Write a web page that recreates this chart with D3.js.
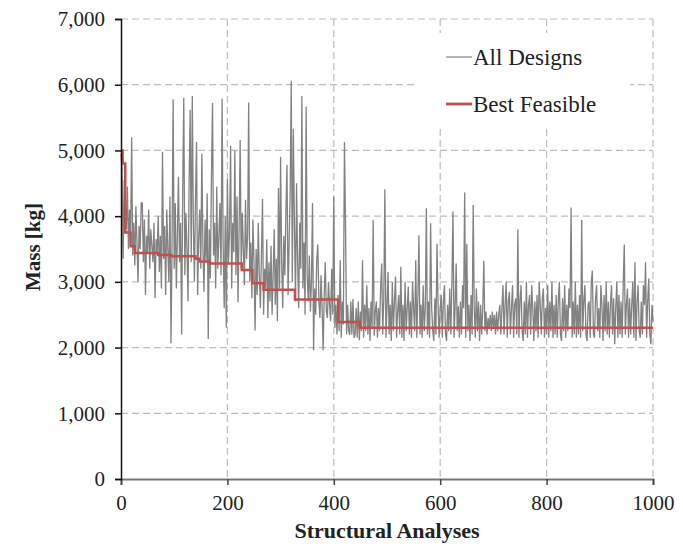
<!DOCTYPE html>
<html lang="en">
<head>
    <meta charset="UTF-8">
    <title>Mass vs Structural Analyses</title>
    <script src="https://d3js.org/d3.v7.min.js"></script>
    <style>
        body { margin: 0; background: #fff; }
        text { font-family: "Liberation Serif", "Times New Roman", serif; fill: #222; }
    </style>
</head>
<body>
    <div id="chart"></div>
    <script>
        // mass of every design, one value per 2 structural analyses (0, 2, 4 ... 1000)
        const analysisStep = 2
        const allDesignsMass = [
            4950, 4700, 3350, 4550, 4200, 3800, 4450, 3500, 4100, 3650,
            5200, 3400, 3900, 3250, 4150, 3600, 3000, 3850, 3500, 4200,
            4200, 3300, 3950, 2800, 3700, 3450, 4100, 3200, 3800, 3550,
            3300, 3900, 2750, 3650, 3450, 4000, 3150, 3700, 2900, 4980,
            3350, 3850, 2800, 4100, 3500, 3000, 4300, 2065, 3600, 5780,
            3200, 4200, 2900, 3700, 4600, 3300, 3900, 2200, 4400, 5800,
            3100, 4050, 3500, 2700, 4500, 5620, 3300, 5830, 3900, 3000,
            4250, 5130, 2800, 3650, 4100, 3200, 4950, 3500, 2850, 3950,
            3300, 4350, 2130, 3800, 3050, 4600, 5720, 3400, 3900, 2900,
            4450, 3200, 3700, 4200, 3100, 5790, 3550, 2600, 4000, 2300,
            4560, 3300, 3750, 5070, 2900, 3900, 3450, 5000, 3100, 4300,
            2690, 3800, 5160, 3200, 4050, 3500, 2950, 4250, 3350, 3700,
            5730, 3000, 3600, 2750, 3950, 3300, 2260, 3500, 2800, 3900,
            3100, 2600, 3400, 4260, 2500, 3200, 2900, 3650, 2450, 3300,
            2700, 3550, 2500, 3100, 3800, 2650, 3350, 2400, 4430, 2900,
            4900, 3300, 2600, 3700, 3100, 4100, 4780, 2800, 3600, 4350,
            6060, 3000, 5330, 3850, 2700, 4500, 3300, 2600, 3900, 3200,
            5830, 2900, 3600, 2500, 5670, 3100, 2700, 3400, 2550, 3000,
            4200, 1960, 2900, 2500, 3350, 3570, 2700, 2450, 3100, 2600,
            1960, 2800, 3300, 2550, 2450, 3000, 2650, 2400, 3200, 2500,
            4300, 2300, 2650, 2200, 2800, 2250, 3330, 2150, 2700, 2350,
            5130, 3890, 2200, 2650, 2250, 2190, 2700, 2200, 2740, 2150,
            2200, 2600, 2150, 2700, 2110, 2550, 2250, 3330, 2150, 2650,
            2250, 2950, 2200, 2600, 2100, 2700, 2300, 3940, 2180, 2550,
            2700, 2150, 2600, 2250, 2900, 3280, 2200, 2750, 4410, 2150,
            2600, 3150, 2200, 2650, 2100, 3000, 2250, 2700, 3080, 2150,
            2550, 2800, 2200, 3230, 2150, 2650, 2100, 3000, 2250, 2600,
            2930, 2200, 2700, 2150, 3000, 2600, 2250, 3330, 2150, 2750,
            3710, 2200, 2650, 2150, 2950, 2250, 2600, 4120, 2200, 2700,
            2150, 3890, 2600, 2250, 2100, 2750, 2200, 3580, 2650, 2150,
            2600, 2800, 2150, 2700, 2950, 2200, 2100, 2650, 2250, 2900,
            2200, 3000, 4070, 2150, 2600, 3280, 2250, 2630, 2150, 2700,
            2200, 2950, 2600, 4360, 2150, 3580, 2250, 2650, 2100, 2800,
            2200, 4170, 2600, 2150, 2900, 2250, 2700, 2100, 2650, 2200,
            2600, 3320, 2250, 2550, 2200, 2450, 2300, 2500, 2250, 2550,
            2300, 2500, 2200, 2550, 2250, 2500, 2650, 2200, 2600, 2950,
            2200, 2650, 3000, 2150, 2700, 2850, 2200, 2600, 2950, 2150,
            2650, 2750, 2200, 3800, 2150, 2700, 2950, 2250, 2100, 2700,
            2200, 3000, 2150, 2650, 2800, 2200, 2950, 2600, 2100, 2700,
            2250, 2800, 2150, 3000, 2650, 2200, 2750, 2900, 2150, 2600,
            2200, 2950, 2150, 2700, 2250, 3000, 2150, 2650, 2200, 2800,
            2150, 2700, 3000, 2200, 2100, 2750, 2250, 2950, 2150, 2650,
            2250, 2900, 2600, 4130, 2150, 2700, 2200, 3000, 2150, 2650,
            2200, 2800, 2150, 3940, 2250, 2700, 2950, 2200, 2100, 2650,
            2700, 2150, 3000, 3170, 2200, 2150, 2750, 2950, 2250, 2600,
            2150, 2950, 2650, 2100, 2800, 2250, 3000, 2200, 2700, 2150,
            2650, 2950, 2200, 2750, 2050, 2600, 3000, 2150, 2800, 2200,
            2700, 2150, 2950, 3570, 2200, 2650, 2900, 2150, 2750, 2200,
            2650, 3000, 2150, 3300, 2100, 2700, 2950, 2250, 2150, 2700,
            2200, 2950, 2650, 3300, 2150, 2700, 3050, 2200, 2050, 2650,
            2400
        ]

        // best feasible design so far: analysis where the value changes, and the mass
        const bestAnalyses = [0, 3, 8, 18, 26, 70, 95, 140, 148, 167, 227, 247, 268, 327, 408, 449, 1000]
        const bestMass = [5000, 4800, 3750, 3540, 3440, 3410, 3390, 3350, 3310, 3280, 3180, 2980, 2880, 2730, 2390, 2300, 2300]

        const xTicks = [0, 200, 400, 600, 800, 1000]
        const yTicks = [0, 1000, 2000, 3000, 4000, 5000, 6000, 7000]
        const legendLabels = ["All Designs", "Best Feasible"]

        const width = 683, height = 547
        const margin = {top: 19, right: 30, bottom: 68, left: 121}
        const w = width - margin.left - margin.right
        const h = height - margin.top - margin.bottom

        const grayColor = "#828282"
        const redColor = "#c0504d"

        const svg = d3.select("#chart").append("svg")
            .attr("width", width)
            .attr("height", height)

        const g = svg.append("g")
            .attr("transform", "translate(" + margin.left + "," + margin.top + ")")

        const x = d3.scaleLinear().domain([0, 1000]).range([0, w])
        const y = d3.scaleLinear().domain([0, 7000]).range([h, 0])

        // grid
        g.selectAll("line.hgrid").data(yTicks.filter(d => d > 0)).enter()
            .append("line")
                .attr("x1", 0)
                .attr("x2", w)
                .attr("y1", d => y(d))
                .attr("y2", d => y(d))
                .attr("stroke", "#bdbdbd")
                .attr("stroke-width", 1.2)
                .attr("stroke-dasharray", "7,4")

        g.selectAll("line.vgrid").data(xTicks.filter(d => d > 0)).enter()
            .append("line")
                .attr("x1", d => x(d))
                .attr("x2", d => x(d))
                .attr("y1", 0)
                .attr("y2", h)
                .attr("stroke", "#bdbdbd")
                .attr("stroke-width", 1.2)
                .attr("stroke-dasharray", "7,4")

        // all designs
        const allLine = d3.line()
            .x((d, i) => x(i * analysisStep))
            .y(d => y(d))

        g.append("path")
            .datum(allDesignsMass)
            .attr("d", allLine)
            .attr("fill", "none")
            .attr("stroke", grayColor)
            .attr("stroke-width", 1.3)

        // best feasible
        const bestLine = d3.line()
            .x(d => x(d[0]))
            .y(d => y(d[1]))
            .curve(d3.curveStepAfter)

        g.append("path")
            .datum(bestAnalyses.map((a, i) => [a, bestMass[i]]))
            .attr("d", bestLine)
            .attr("fill", "none")
            .attr("stroke", redColor)
            .attr("stroke-width", 2.5)

        // axes
        const xAxis = g.append("g")
            .attr("transform", "translate(0," + h + ")")
            .call(d3.axisBottom(x).tickValues(xTicks).tickFormat(d3.format("d")).tickSize(6).tickPadding(10))
        xAxis.select(".domain").attr("stroke", "#777").attr("stroke-width", 2)
        xAxis.selectAll(".tick line").attr("stroke", "#444").attr("stroke-width", 1.5)
        xAxis.selectAll("text").style("font-size", "21px").attr("fill", "#222")

        const yAxis = g.append("g")
            .call(d3.axisLeft(y).tickValues(yTicks).tickFormat(d3.format(",")).tickSize(6).tickPadding(10))
        yAxis.select(".domain").attr("stroke", "#111").attr("stroke-width", 1.5)
        yAxis.selectAll(".tick line").attr("stroke", "#111").attr("stroke-width", 1.5)
        yAxis.selectAll("text").style("font-size", "21px").attr("fill", "#222")

        // axis titles
        svg.append("text")
            .attr("x", 387)
            .attr("y", 538)
            .attr("text-anchor", "middle")
            .style("font-size", "22px")
            .style("font-weight", "bold")
            .text("Structural Analyses")

        svg.append("text")
            .attr("transform", "translate(40,247) rotate(-90)")
            .attr("text-anchor", "middle")
            .style("font-size", "21px")
            .style("font-weight", "bold")
            .text("Mass [kg]")

        // legend
        const legend = svg.append("g").attr("transform", "translate(415,33)")
        legend.append("rect")
            .attr("width", 215)
            .attr("height", 95)
            .attr("fill", "#fff")

        const legendColors = [grayColor, redColor]
        const legendWidths = [1.2, 2.8]
        legendLabels.forEach((label, i) => {
            const row = legend.append("g").attr("transform", "translate(0," + (24 + i * 47) + ")")
            row.append("line")
                .attr("x1", 31)
                .attr("x2", 57)
                .attr("y1", 0)
                .attr("y2", 0)
                .attr("stroke", legendColors[i])
                .attr("stroke-width", legendWidths[i])
            row.append("text")
                .attr("x", 58)
                .attr("y", 8)
                .style("font-size", "23px")
                .text(label)
        })
    </script>
</body>
</html>
